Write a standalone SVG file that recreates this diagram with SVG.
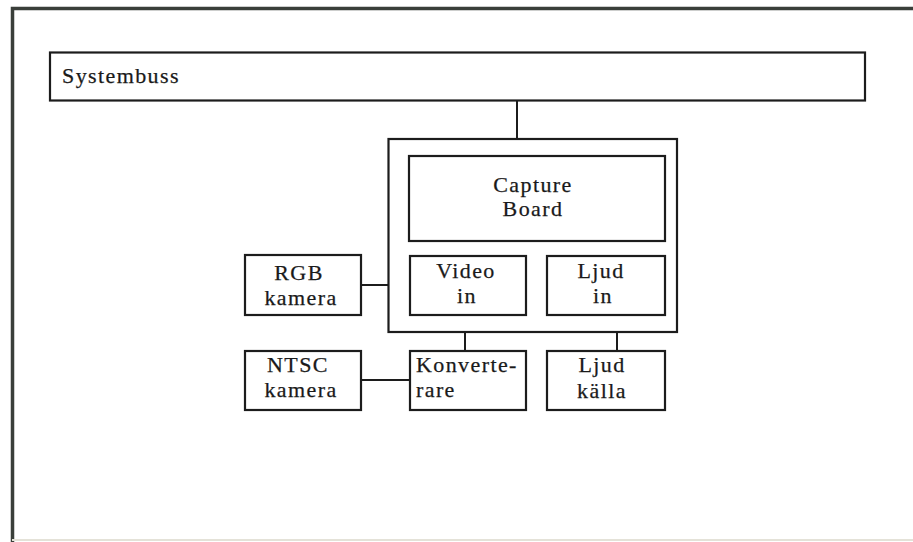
<svg xmlns="http://www.w3.org/2000/svg" width="913" height="542" viewBox="0 0 913 542">
<style>
.box{fill:#fff;stroke:#1c1c1c;stroke-width:2.2}
.ln{stroke:#1c1c1c;stroke-width:2;fill:none}
text{font-family:"Liberation Serif","Times New Roman",serif;font-size:22px;fill:#1a1a1a;letter-spacing:1.4px;stroke:#1a1a1a;stroke-width:0.25}
.c{text-anchor:middle}
</style>
<rect x="0" y="0" width="913" height="542" fill="#fff"/>
<g id="frame">
<path d="M12.5 542 V8.5 H913" fill="none" stroke="#3a3f3a" stroke-width="3.5"/>
<path d="M12 540 H913" fill="none" stroke="#e4e2d8" stroke-width="2"/>
</g>
<g id="connectors">
<path class="ln" d="M517 100 V139"/>
<path class="ln" d="M361 285 H410"/>
<path class="ln" d="M465 315 V351"/>
<path class="ln" d="M617 315 V351"/>
<path class="ln" d="M361 380 H410"/>
</g>
<g id="systembuss">
<rect class="box" x="50" y="52.5" width="815" height="48" stroke-width="3.5" stroke="#2a2a2a"/>
<text x="62" y="83">Systembuss</text>
</g>
<g id="capture-outer">
<rect class="box" x="388.5" y="139" width="288.5" height="193" fill="none"/>
</g>
<g id="capture-board">
<rect class="box" x="409" y="156" width="256" height="85"/>
<text class="c" x="533" y="192">Capture</text>
<text class="c" x="533" y="216">Board</text>
</g>
<g id="video-in">
<rect class="box" x="410" y="256" width="116" height="59"/>
<text class="c" x="466" y="278">Video</text>
<text class="c" x="467" y="303">in</text>
</g>
<g id="ljud-in">
<rect class="box" x="547" y="256" width="118" height="59"/>
<text class="c" x="601" y="278">Ljud</text>
<text class="c" x="603" y="303">in</text>
</g>
<g id="rgb-kamera">
<rect class="box" x="245" y="255" width="116" height="60"/>
<text class="c" x="299" y="280">RGB</text>
<text class="c" x="301" y="305">kamera</text>
</g>
<g id="ntsc-kamera">
<rect class="box" x="245" y="351" width="116" height="59"/>
<text class="c" x="298" y="372">NTSC</text>
<text class="c" x="301" y="397">kamera</text>
</g>
<g id="konverterare">
<rect class="box" x="410" y="351" width="116" height="59"/>
<text x="416" y="372">Konverte-</text>
<text x="416" y="397">rare</text>
</g>
<g id="ljud-kalla">
<rect class="box" x="547" y="351" width="118" height="59"/>
<text class="c" x="602" y="372">Ljud</text>
<text class="c" x="602" y="398">källa</text>
</g>
</svg>
